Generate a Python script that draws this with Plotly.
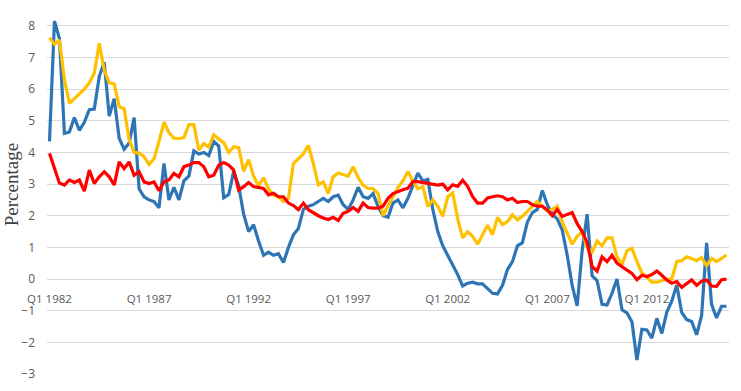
import plotly.graph_objects as go

# Quarterly categories Q1 1982 .. Q1 2016
years = list(range(1982, 2017))
quarters = [f"Q{q} {y}" for y in years for q in (1, 2, 3, 4)][:137]

tick_labels = ["Q1 1982", "Q1 1987", "Q1 1992", "Q1 1997", "Q1 2002", "Q1 2007", "Q1 2012"]
y_ticks = [-3, -2, -1, 0, 1, 2, 3, 4, 5, 6, 7, 8]

blue = [
    4.35, 8.15, 7.6, 4.6, 4.65, 5.1, 4.7, 4.95, 5.35, 5.37,
    6.4, 6.85, 5.15, 5.7, 4.45, 4.1, 4.3, 5.1, 2.85, 2.6,
    2.5, 2.45, 2.25, 3.65, 2.5, 2.9, 2.5, 3.1, 3.25, 4.05,
    3.95, 4.0, 3.9, 4.35, 4.2, 2.57, 2.67, 3.4, 2.95, 2.05,
    1.5, 1.72, 1.2, 0.75, 0.85, 0.75, 0.8, 0.52, 1.0, 1.4,
    1.6, 2.2, 2.3, 2.35, 2.45, 2.55, 2.45, 2.6, 2.65, 2.35,
    2.2, 2.5, 2.9, 2.6, 2.55, 2.7, 2.3, 2.0, 1.95, 2.4,
    2.5, 2.25, 2.55, 2.95, 3.35, 3.1, 3.15, 2.2, 1.5, 1.05,
    0.75, 0.4, 0.14, -0.22, -0.13, -0.1, -0.15, -0.15, -0.3, -0.45,
    -0.47, -0.2, 0.3, 0.55, 1.05, 1.15, 1.8, 2.1, 2.2, 2.8,
    2.35, 2.05, 1.9, 1.55, 0.75, -0.2, -0.85, 0.9, 2.05, 0.1,
    -0.05, -0.8, -0.82, -0.45, 0.0, -0.97, -1.07, -1.35, -2.56, -1.59,
    -1.61, -1.87, -1.24, -1.72, -1.05, -0.7, -0.19, -1.05, -1.28, -1.34,
    -1.76, -1.15, 1.14, -0.8, -1.23, -0.86, -0.86,
]

yellow = [
    7.62, 7.42, 7.55, 6.3, 5.55, 5.7, 5.82, 6.0, 6.2, 6.5,
    7.45, 6.6, 6.2, 6.17, 5.45, 5.38, 4.4, 4.0, 3.98, 3.87,
    3.62, 3.8, 4.35, 4.96, 4.63, 4.45, 4.44, 4.47, 4.88, 4.88,
    4.07, 4.28, 4.17, 4.56, 4.42, 4.31, 4.0, 4.18, 4.15, 3.4,
    3.77, 3.25, 2.95, 3.2, 2.85, 2.65, 2.6, 2.45, 2.55, 3.65,
    3.8, 3.96, 4.22, 3.65, 2.97, 3.07, 2.7, 3.23, 3.35, 3.3,
    3.25, 3.55, 3.2, 2.97, 2.86, 2.86, 2.7, 2.0, 2.3, 2.6,
    2.9, 3.1, 3.4, 3.1, 2.85, 2.92, 2.3, 2.5, 2.3, 1.98,
    2.6, 2.72, 1.9, 1.3, 1.5, 1.35, 1.1, 1.4, 1.7, 1.4,
    1.95, 1.72, 1.82, 2.03, 1.87, 1.98, 2.14, 2.3, 2.45, 2.3,
    2.15, 2.2, 2.3, 1.8, 1.45, 1.1, 1.35, 1.5, 1.0, 0.85,
    1.2, 1.05, 1.3, 1.3, 0.7, 0.45, 0.9, 0.97, 0.55, 0.2,
    0.05, -0.1, -0.1, -0.05, 0.0, 0.0, 0.55, 0.58, 0.7, 0.65,
    0.58, 0.68, 0.42, 0.65, 0.55, 0.65, 0.76,
]

red = [
    3.97, 3.5, 3.03, 2.97, 3.13, 3.05, 3.13, 2.78, 3.44, 3.02,
    3.23, 3.39, 3.23, 2.97, 3.7, 3.49, 3.7, 3.28, 3.39, 3.07,
    3.02, 3.07, 2.79, 3.07, 3.13, 3.34, 3.23, 3.55, 3.6, 3.68,
    3.68, 3.55, 3.23, 3.28, 3.6, 3.68, 3.6, 3.44, 2.81, 2.92,
    3.05, 2.92, 2.9, 2.86, 2.66, 2.71, 2.6, 2.6, 2.4, 2.32,
    2.19, 2.4, 2.19, 2.08, 2.0, 1.93, 1.88, 1.95, 1.85, 2.08,
    2.14, 2.26, 2.14, 2.4, 2.26, 2.24, 2.24, 2.3, 2.55, 2.7,
    2.77, 2.82, 2.87, 3.08, 3.08, 3.05, 3.03, 3.0, 2.97, 3.0,
    2.82, 2.98, 2.93, 3.12, 2.93, 2.6, 2.4, 2.4, 2.56, 2.6,
    2.63, 2.6, 2.5, 2.55, 2.42, 2.45, 2.45, 2.35, 2.3, 2.3,
    2.18, 2.0, 2.2, 1.98, 2.05, 2.1, 1.75, 1.5, 1.15, 0.4,
    0.25, 0.7, 0.55, 0.75, 0.5, 0.38, 0.28, 0.18, -0.02, 0.12,
    0.08, 0.14, 0.25, 0.12, -0.03, -0.13, -0.08, -0.26, -0.15, -0.03,
    -0.2, -0.07, -0.03, -0.22, -0.23, -0.02, 0.0,
]

assert len(blue) == len(yellow) == len(red) == len(quarters) == 137

Y_MIN, Y_MAX = -3, 8.5

fig = go.Figure()
for vals, col in ((blue, "#2E75B6"), (yellow, "#FFC000"), (red, "#FF0000")):
    fig.add_trace(go.Scatter(
        x=quarters, y=vals, mode="lines",
        line=dict(color=col, width=3.2),
        showlegend=False, hoverinfo="skip",
    ))

fig.update_layout(
    width=741, height=391,
    margin=dict(l=47, r=12, t=10, b=17),
    paper_bgcolor="white", plot_bgcolor="white",
    font=dict(family="Open Sans", size=12, color="#595959"),
    xaxis=dict(
        type="category",
        range=[-0.5, 136.5],
        tickmode="array", tickvals=tick_labels, ticktext=tick_labels,
        showgrid=False, zeroline=False, showline=False,
        ticks="", ticklabelstandoff=11,
        anchor="free", position=(0 - Y_MIN) / (Y_MAX - Y_MIN),
        tickfont=dict(size=11.5, color="#595959"),
    ),
    yaxis=dict(
        range=[Y_MIN, Y_MAX],
        tickmode="array", tickvals=y_ticks,
        showgrid=True, gridcolor="#D9D9D9", gridwidth=1,
        zeroline=False, showline=False, ticks="",
        ticklabelstandoff=11,
        tickfont=dict(size=12, color="#595959"),
    ),
    annotations=[dict(
        text="Percentage", textangle=-90,
        xref="paper", yref="paper", x=-0.052, y=0.52,
        xanchor="center", yanchor="middle", showarrow=False,
        font=dict(family="Liberation Serif", size=19, color="#404040"),
    )],
)

# remove the browser's default 8px body margin so the figure fills the window
fig.write_html(
    "out.html",
    config={"displayModeBar": False, "staticPlot": True},
    post_script="document.body.style.margin='0';",
)
